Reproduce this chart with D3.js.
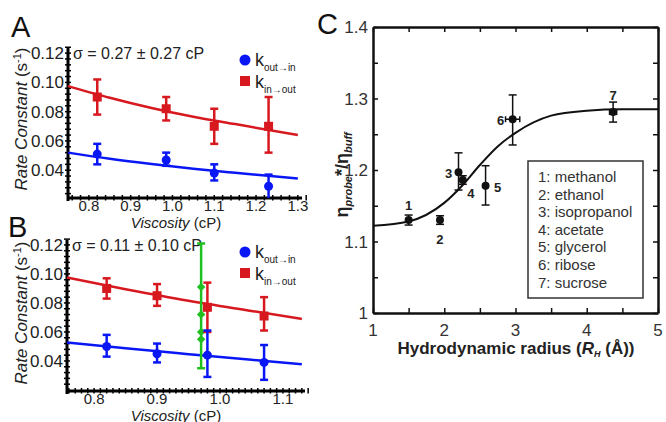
<!DOCTYPE html>
<html>
<head>
<meta charset="utf-8">
<script src="https://cdn.jsdelivr.net/npm/d3@7"></script>
<style>
  body { margin: 0; background: #fff; }
  svg { font-family: "Liberation Sans", Arial, sans-serif; }
</style>
</head>
<body>
<div id="chart"></div>
<script>
// ---- panel A data ----
var visA = [0.82, 0.985, 1.10, 1.23];
var kOutInA = [0.051, 0.047, 0.038, 0.029];
var kOutInA_lo = [0.044, 0.043, 0.033, 0.021];
var kOutInA_hi = [0.058, 0.052, 0.044, 0.037];
var kInOutA = [0.090, 0.082, 0.070, 0.070];
var kInOutA_lo = [0.078, 0.074, 0.058, 0.052];
var kInOutA_hi = [0.102, 0.090, 0.082, 0.090];
var fitXA = [0.75, 0.85, 0.95, 1.05, 1.15, 1.30];
var fitRedA = [0.0975, 0.0895, 0.0825, 0.0765, 0.0715, 0.064];
var fitBlueA = [0.052, 0.0478, 0.0442, 0.041, 0.0382, 0.0343];
var sigmaA = "σ = 0.27 ± 0.27 cP";

// ---- panel B data ----
var visB = [0.82, 0.90, 0.98, 1.07];
var kOutInB = [0.050, 0.045, 0.044, 0.039];
var kOutInB_lo = [0.043, 0.039, 0.029, 0.027];
var kOutInB_hi = [0.058, 0.052, 0.061, 0.051];
var kInOutB = [0.090, 0.085, 0.077, 0.071];
var kInOutB_lo = [0.083, 0.078, 0.060, 0.061];
var kInOutB_hi = [0.097, 0.093, 0.094, 0.084];
var fitXB = [0.757, 0.85, 0.95, 1.05, 1.13];
var fitRedB = [0.0975, 0.0895, 0.0815, 0.0745, 0.069];
var fitBlueB = [0.0527, 0.0487, 0.0447, 0.0408, 0.0378];
var greenX = 0.97;
var greenRange = [0.035, 0.121];
var greenMarks = [0.091, 0.072, 0.060, 0.055];
var sigmaB = "σ = 0.11 ± 0.10 cP";

var yTicksAB = [0.04, 0.06, 0.08, 0.10, 0.12];

// ---- panel C data ----
var probeNum = ["1", "2", "3", "4", "5", "6", "7"];
var probeName = ["methanol", "ethanol", "isopropanol", "acetate", "glycerol", "ribose", "sucrose"];
var radius = [1.50, 1.94, 2.20, 2.26, 2.58, 2.96, 4.37];
var radiusErr = [0, 0, 0, 0, 0, 0.10, 0.05];
var etaRatio = [1.130, 1.130, 1.197, 1.186, 1.178, 1.271, 1.281];
var etaLo = [1.123, 1.124, 1.172, 1.180, 1.151, 1.235, 1.267];
var etaHi = [1.137, 1.136, 1.224, 1.192, 1.206, 1.305, 1.295];
var fitXC = [1.0, 1.5, 2.0, 2.25, 2.5, 2.75, 3.0, 3.5, 4.0, 4.5, 5.0];
var fitYC = [1.122, 1.128, 1.154, 1.178, 1.207, 1.233, 1.252, 1.276, 1.283, 1.285, 1.285];

var RED = "#d7191f", BLUE = "#0a17f5", GREEN = "#1fc01f";

var svg = d3.select("#chart").append("svg")
    .attr("width", 666).attr("height", 422);

function ticksBetween(a, b, step) {
    var out = [];
    var n = Math.round((b - a) / step);
    for (var i = 0; i <= n; i++) out.push(+(a + i * step).toFixed(4));
    return out;
}

function rateRows(xs, ys, lo, hi) {
    return xs.map(function(x, i) { return { x: x, y: ys[i], lo: lo[i], hi: hi[i] }; });
}

function ratePanel(cfg) {
    var g = svg.append("g");
    var x = d3.scaleLinear().domain(cfg.xDomain).range([cfg.left, cfg.right]);
    var y = d3.scaleLinear().domain(cfg.yDomain).range([cfg.bottom, cfg.top]);

    // minor ticks crossing the axes
    var xMinor = ticksBetween(cfg.xMinorStart, cfg.xDomain[1], cfg.xMinorStep);
    g.selectAll(".xm").data(xMinor).enter().append("line")
        .attr("x1", function(d) { return x(d); }).attr("x2", function(d) { return x(d); })
        .attr("y1", cfg.bottom - 3).attr("y2", cfg.bottom + 2.5)
        .attr("stroke", "#000").attr("stroke-width", 1.5);
    var yMinor = ticksBetween(0.024, cfg.yDomain[1], 0.004);
    g.selectAll(".ym").data(yMinor).enter().append("line")
        .attr("y1", function(d) { return y(d); }).attr("y2", function(d) { return y(d); })
        .attr("x1", cfg.left - 3).attr("x2", cfg.left + 3)
        .attr("stroke", "#000").attr("stroke-width", 1.5);

    g.append("line").attr("x1", cfg.left).attr("x2", cfg.right)
        .attr("y1", cfg.bottom).attr("y2", cfg.bottom)
        .attr("stroke", "#000").attr("stroke-width", 3);
    g.append("line").attr("x1", cfg.left).attr("x2", cfg.left)
        .attr("y1", cfg.bottom + 3).attr("y2", cfg.top)
        .attr("stroke", "#000").attr("stroke-width", 3);

    g.selectAll(".yl").data(yTicksAB).enter().append("text")
        .attr("x", cfg.left - 4).attr("y", function(d) { return y(d) + 6; })
        .attr("text-anchor", "end").attr("font-size", 17).attr("fill", "#222")
        .text(d3.format(".2f"));
    g.selectAll(".xl").data(cfg.xLabels).enter().append("text")
        .attr("x", function(d) { return x(d); }).attr("y", cfg.bottom + 13)
        .attr("text-anchor", "middle").attr("font-size", 15).attr("fill", "#222")
        .text(d3.format(".1f"));

    // axis titles
    var xt = g.append("text").attr("x", 176).attr("y", cfg.bottom + cfg.xTitleDy)
        .attr("text-anchor", "middle").attr("font-size", 15).attr("fill", "#222");
    xt.append("tspan").attr("font-style", "italic").text("Viscosity");
    xt.append("tspan").text(" (cP)");
    var yt = g.append("text")
        .attr("transform", "translate(27," + cfg.yTitleY + ") rotate(-90)")
        .attr("text-anchor", "middle").attr("font-size", 17).attr("fill", "#222");
    yt.append("tspan").attr("font-style", "italic").text("Rate Constant ");
    yt.append("tspan").text("(s");
    yt.append("tspan").attr("font-size", 11).attr("dy", -6).text("-1");
    yt.append("tspan").attr("dy", 6).text(")");

    g.append("text").attr("x", cfg.left + 5).attr("y", cfg.top + 11)
        .attr("font-size", 16).attr("fill", "#222").text(cfg.sigma);
    g.append("text").attr("x", cfg.letterX).attr("y", cfg.letterY)
        .attr("font-size", 29).attr("fill", "#111").text(cfg.letter);

    // fit lines
    var line = d3.line().x(function(d) { return x(d[0]); }).y(function(d) { return y(d[1]); })
        .curve(d3.curveMonotoneX);
    g.append("path").datum(cfg.fitX.map(function(v, i) { return [v, cfg.fitRed[i]]; }))
        .attr("d", line).attr("fill", "none").attr("stroke", RED).attr("stroke-width", 2.5);
    g.append("path").datum(cfg.fitX.map(function(v, i) { return [v, cfg.fitBlue[i]]; }))
        .attr("d", line).attr("fill", "none").attr("stroke", BLUE).attr("stroke-width", 2.5);

    if (cfg.green) {
        g.append("line").attr("x1", x(greenX)).attr("x2", x(greenX))
            .attr("y1", y(greenRange[0])).attr("y2", y(greenRange[1]))
            .attr("stroke", GREEN).attr("stroke-width", 2.5);
        g.selectAll(".gm").data(greenMarks).enter().append("rect")
            .attr("x", x(greenX) - 3).attr("y", function(d) { return y(d) - 3; })
            .attr("width", 6).attr("height", 6)
            .attr("transform", function(d) { return "rotate(45," + x(greenX) + "," + y(d) + ")"; })
            .attr("fill", GREEN);
        g.selectAll(".gc").data(greenRange).enter().append("line")
            .attr("x1", x(greenX) - 4).attr("x2", x(greenX) + 4)
            .attr("y1", function(d) { return y(d); }).attr("y2", function(d) { return y(d); })
            .attr("stroke", GREEN).attr("stroke-width", 2.5);
    }

    function errorBars(rows, color) {
        var eb = g.append("g").attr("stroke", color).attr("stroke-width", 2.5);
        rows.forEach(function(d) {
            eb.append("line").attr("x1", x(d.x)).attr("x2", x(d.x))
                .attr("y1", y(Math.max(d.lo, cfg.yDomain[0]))).attr("y2", y(d.hi));
            [d.lo, d.hi].forEach(function(v) {
                if (v <= cfg.yDomain[0]) return;
                eb.append("line").attr("x1", x(d.x) - 4).attr("x2", x(d.x) + 4)
                    .attr("y1", y(v)).attr("y2", y(v));
            });
        });
    }
    var redRows = rateRows(cfg.vis, cfg.kInOut, cfg.kInOutLo, cfg.kInOutHi);
    var blueRows = rateRows(cfg.vis, cfg.kOutIn, cfg.kOutInLo, cfg.kOutInHi);
    errorBars(redRows, RED);
    errorBars(blueRows, BLUE);
    g.selectAll(".sq").data(redRows).enter().append("rect")
        .attr("x", function(d) { return x(d.x) - 4.5; }).attr("y", function(d) { return y(d.y) - 4.5; })
        .attr("width", 9).attr("height", 9).attr("fill", RED);
    g.selectAll(".ci").data(blueRows).enter().append("circle")
        .attr("cx", function(d) { return x(d.x); }).attr("cy", function(d) { return y(d.y); })
        .attr("r", 4.5).attr("fill", BLUE);

    // legend
    var lg = g.append("g").attr("transform", "translate(245," + (cfg.top + 12) + ")");
    lg.append("circle").attr("cx", 0).attr("cy", 0).attr("r", 5.5).attr("fill", BLUE);
    lg.append("rect").attr("x", -5).attr("y", 16).attr("width", 10).attr("height", 10).attr("fill", RED);
    var t1 = lg.append("text").attr("x", 10).attr("y", 6).attr("font-size", 18).attr("fill", "#222");
    t1.append("tspan").text("k");
    t1.append("tspan").attr("font-size", 10).attr("dy", 5).text("out→in");
    var t2 = lg.append("text").attr("x", 10).attr("y", 28).attr("font-size", 18).attr("fill", "#222");
    t2.append("tspan").text("k");
    t2.append("tspan").attr("font-size", 10).attr("dy", 5).text("in→out");
}

ratePanel({
    letter: "A", letterX: 11, letterY: 37,
    left: 68, right: 302, top: 48, bottom: 198,
    xDomain: [0.75, 1.31], yDomain: [0.021, 0.1235],
    xMinorStart: 0.76, xMinorStep: 0.02,
    xLabels: [0.8, 0.9, 1.0, 1.1, 1.2, 1.3],
    xTitleDy: 30, yTitleY: 119,
    sigma: sigmaA,
    vis: visA, kOutIn: kOutInA, kOutInLo: kOutInA_lo, kOutInHi: kOutInA_hi,
    kInOut: kInOutA, kInOutLo: kInOutA_lo, kInOutHi: kInOutA_hi,
    fitX: fitXA, fitRed: fitRedA, fitBlue: fitBlueA, green: false
});

ratePanel({
    letter: "B", letterX: 8, letterY: 237,
    left: 67, right: 305, top: 240, bottom: 391,
    xDomain: [0.757, 1.135], yDomain: [0.0193, 0.1234],
    xMinorStart: 0.76, xMinorStep: 0.01,
    xLabels: [0.8, 0.9, 1.0, 1.1],
    xTitleDy: 29.5, yTitleY: 313,
    sigma: sigmaB,
    vis: visB, kOutIn: kOutInB, kOutInLo: kOutInB_lo, kOutInHi: kOutInB_hi,
    kInOut: kInOutB, kInOutLo: kInOutB_lo, kInOutHi: kInOutB_hi,
    fitX: fitXB, fitRed: fitRedB, fitBlue: fitBlueB, green: true
});

// ---- panel C ----
(function() {
    var L = 373, R = 658, T = 27, B = 313;
    var g = svg.append("g");
    var x = d3.scaleLinear().domain([1, 5]).range([L, R]);
    var y = d3.scaleLinear().domain([1, 1.4]).range([B, T]);

    g.append("g").attr("transform", "translate(0," + B + ")")
        .call(d3.axisBottom(x).tickValues(ticksBetween(1, 5, 0.5)).tickSizeInner(-5).tickSizeOuter(0).tickFormat(""));
    g.append("g").attr("transform", "translate(0," + T + ")")
        .call(d3.axisTop(x).tickValues(ticksBetween(1, 5, 0.5)).tickSizeInner(-5).tickSizeOuter(0).tickFormat(""));
    g.append("g").attr("transform", "translate(" + L + ",0)")
        .call(d3.axisLeft(y).tickValues(ticksBetween(1, 1.4, 0.05)).tickSizeInner(-5).tickSizeOuter(0).tickFormat(""));
    g.append("g").attr("transform", "translate(" + R + ",0)")
        .call(d3.axisRight(y).tickValues(ticksBetween(1, 1.4, 0.05)).tickSizeInner(-5).tickSizeOuter(0).tickFormat(""));
    g.selectAll(".domain").attr("stroke", "#111").attr("stroke-width", 2.5);
    g.selectAll(".tick line").attr("stroke", "#111").attr("stroke-width", 1.5);

    g.selectAll(".cy").data([1, 1.1, 1.2, 1.3, 1.4]).enter().append("text")
        .attr("x", L - 5).attr("y", function(d) { return y(d) + 6; })
        .attr("text-anchor", "end").attr("font-size", 17).attr("fill", "#333")
        .text(function(d) { return d === 1 ? "1" : d3.format(".1f")(d); });
    g.selectAll(".cx").data([1, 2, 3, 4, 5]).enter().append("text")
        .attr("x", function(d) { return x(d); }).attr("y", B + 23)
        .attr("text-anchor", "middle").attr("font-size", 17).attr("fill", "#333")
        .text(function(d) { return d; });

    var xt = g.append("text").attr("x", 516).attr("y", 354).attr("text-anchor", "middle")
        .attr("font-size", 17).attr("font-weight", "bold").attr("fill", "#222");
    xt.append("tspan").text("Hydrodynamic radius (");
    xt.append("tspan").attr("font-style", "italic").text("R");
    xt.append("tspan").attr("font-style", "italic").attr("font-size", 9).attr("dy", 3).text("H");
    xt.append("tspan").attr("dy", -3).text(" (Å))");

    var yt = g.append("text").attr("transform", "translate(348,175) rotate(-90)")
        .attr("text-anchor", "middle").attr("font-size", 18).attr("font-weight", "bold").attr("fill", "#222");
    yt.append("tspan").text("η");
    yt.append("tspan").attr("font-style", "italic").attr("font-size", 11).attr("dy", 4).text("probe");
    yt.append("tspan").attr("dy", -4).text("*/η");
    yt.append("tspan").attr("font-style", "italic").attr("font-size", 11).attr("dy", 4).text("buff");

    g.append("text").attr("x", 317).attr("y", 34).attr("font-size", 29).attr("fill", "#111").text("C");

    var line = d3.line().x(function(d) { return x(d[0]); }).y(function(d) { return y(d[1]); })
        .curve(d3.curveMonotoneX);
    g.append("path").datum(fitXC.map(function(v, i) { return [v, fitYC[i]]; }))
        .attr("d", line).attr("fill", "none").attr("stroke", "#111").attr("stroke-width", 2);

    var rows = radius.map(function(r, i) {
        return { x: r, xe: radiusErr[i], y: etaRatio[i], lo: etaLo[i], hi: etaHi[i], n: probeNum[i] };
    });
    var eb = g.append("g").attr("stroke", "#111").attr("stroke-width", 1.5);
    rows.forEach(function(d) {
        eb.append("line").attr("x1", x(d.x)).attr("x2", x(d.x)).attr("y1", y(d.lo)).attr("y2", y(d.hi));
        [d.lo, d.hi].forEach(function(v) {
            eb.append("line").attr("x1", x(d.x) - 4).attr("x2", x(d.x) + 4).attr("y1", y(v)).attr("y2", y(v));
        });
        if (d.xe > 0) {
            eb.append("line").attr("x1", x(d.x - d.xe)).attr("x2", x(d.x + d.xe)).attr("y1", y(d.y)).attr("y2", y(d.y));
            [d.x - d.xe, d.x + d.xe].forEach(function(v) {
                eb.append("line").attr("x1", x(v)).attr("x2", x(v)).attr("y1", y(d.y) - 3).attr("y2", y(d.y) + 3);
            });
        }
    });
    g.selectAll(".pt").data(rows).enter().append("circle")
        .attr("cx", function(d) { return x(d.x); }).attr("cy", function(d) { return y(d.y); })
        .attr("r", 4).attr("fill", "#111");

    // label placement offsets (px) for the point numbers
    var labelOffset = { "1": [0, -15], "2": [0, 19], "3": [-10, 1], "4": [8, 13], "5": [12, 1], "6": [-12, 1], "7": [0, -17] };
    g.selectAll(".pl").data(rows).enter().append("text")
        .attr("x", function(d) { return x(d.x) + labelOffset[d.n][0]; })
        .attr("y", function(d) { return y(d.y) + labelOffset[d.n][1] + 5; })
        .attr("text-anchor", "middle").attr("font-size", 13).attr("font-weight", "bold").attr("fill", "#222")
        .text(function(d) { return d.n; });

    var lg = g.append("g").attr("transform", "translate(528,161)");
    lg.append("rect").attr("width", 115).attr("height", 137)
        .attr("fill", "#fff").attr("stroke", "#333").attr("stroke-width", 1.5);
    lg.selectAll("text").data(probeName).enter().append("text")
        .attr("x", 10).attr("y", function(d, i) { return 21 + i * 17.6; })
        .attr("font-size", 15).attr("fill", "#333")
        .text(function(d, i) { return probeNum[i] + ": " + d; });
})();
</script>
</body>
</html>
